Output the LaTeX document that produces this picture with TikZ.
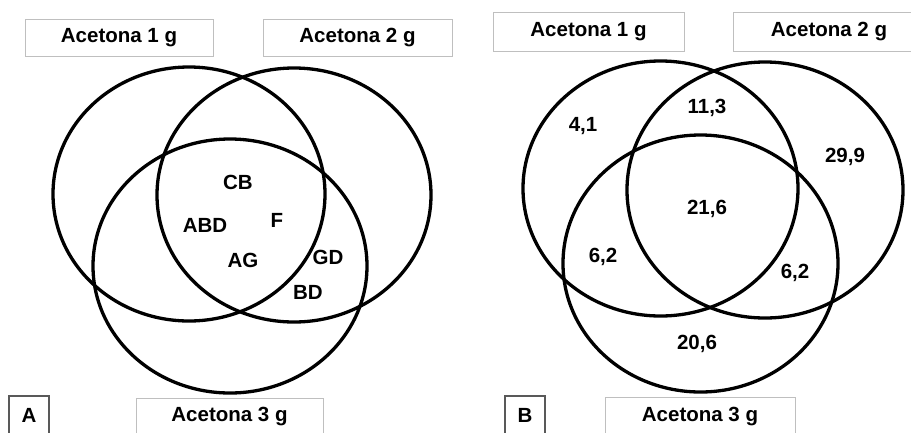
\documentclass[tikz,border=0pt]{standalone}
\usepackage{fontspec}
\setmainfont{Liberation Sans}
\usetikzlibrary{shapes.geometric}
\tikzset{
  lbl/.style={draw=black!25, line width=1pt, rectangle, inner sep=0pt, minimum height=37pt},
  tag/.style={draw=black!65, line width=1.2pt, rectangle, inner sep=0pt, minimum width=40pt, minimum height=38pt},
  venn/.style={draw=black, line width=3.3pt, ellipse, inner sep=0pt},
  txt/.style={inner sep=0pt}
}
\begin{document}
\begin{tikzpicture}[x=1pt,y=-1pt,font=\fontsize{20.5}{24}\selectfont\bfseries]
\clip (0,0) rectangle (911,432);
\fill[white] (0,0) rectangle (911,432);
% ---------- Panel A ----------
\node[lbl, minimum width=188pt] (a1) at (119,37.5) {Acetona 1 g};
\node[lbl, minimum width=189pt] (a2) at (357.5,37.5) {Acetona 2 g};
\node[lbl, minimum width=187pt] (a3) at (229.5,416.5) {Acetona 3 g};
\node[tag] (ta) at (29,415) {A};
\node[venn, minimum width=272pt, minimum height=254pt] (ca1) at (189,194) {};
\node[venn, minimum width=274pt, minimum height=254pt] (ca2) at (294,195) {};
\node[venn, minimum width=274pt, minimum height=254pt] (ca3) at (230,266) {};
\node[txt] (cb) at (238,182) {CB};
\node[txt] (abd) at (205,225) {ABD};
\node[txt] (f) at (277,220) {F};
\node[txt] (ag) at (243,260) {AG};
\node[txt] (gd) at (328,257) {GD};
\node[txt] (bd) at (308,292) {BD};
% ---------- Panel B ----------
\node[lbl, minimum width=191pt, minimum height=39pt] (b1) at (588.5,31.5) {Acetona 1 g};
\node[lbl, minimum width=192pt, minimum height=39pt] (b2) at (829,31.5) {Acetona 2 g};
\node[lbl, minimum width=190pt, minimum height=39pt] (b3) at (700,416.5) {Acetona 3 g};
\node[tag] (tb) at (525,415) {B};
\node[venn, minimum width=275pt, minimum height=255pt] (cb1) at (660.5,188.5) {};
\node[venn, minimum width=276pt, minimum height=256pt] (cb2) at (765,190) {};
\node[venn, minimum width=275pt, minimum height=257pt] (cb3) at (700.5,263.5) {};
\node[txt] (n1) at (583,126) {4,1};
\node[txt] (n2) at (707,108) {11,3};
\node[txt] (n3) at (845,157) {29,9};
\node[txt] (n4) at (707,209) {21,6};
\node[txt] (n5) at (603,257) {6,2};
\node[txt] (n6) at (795,273) {6,2};
\node[txt] (n7) at (697,344) {20,6};
\end{tikzpicture}
\end{document}
